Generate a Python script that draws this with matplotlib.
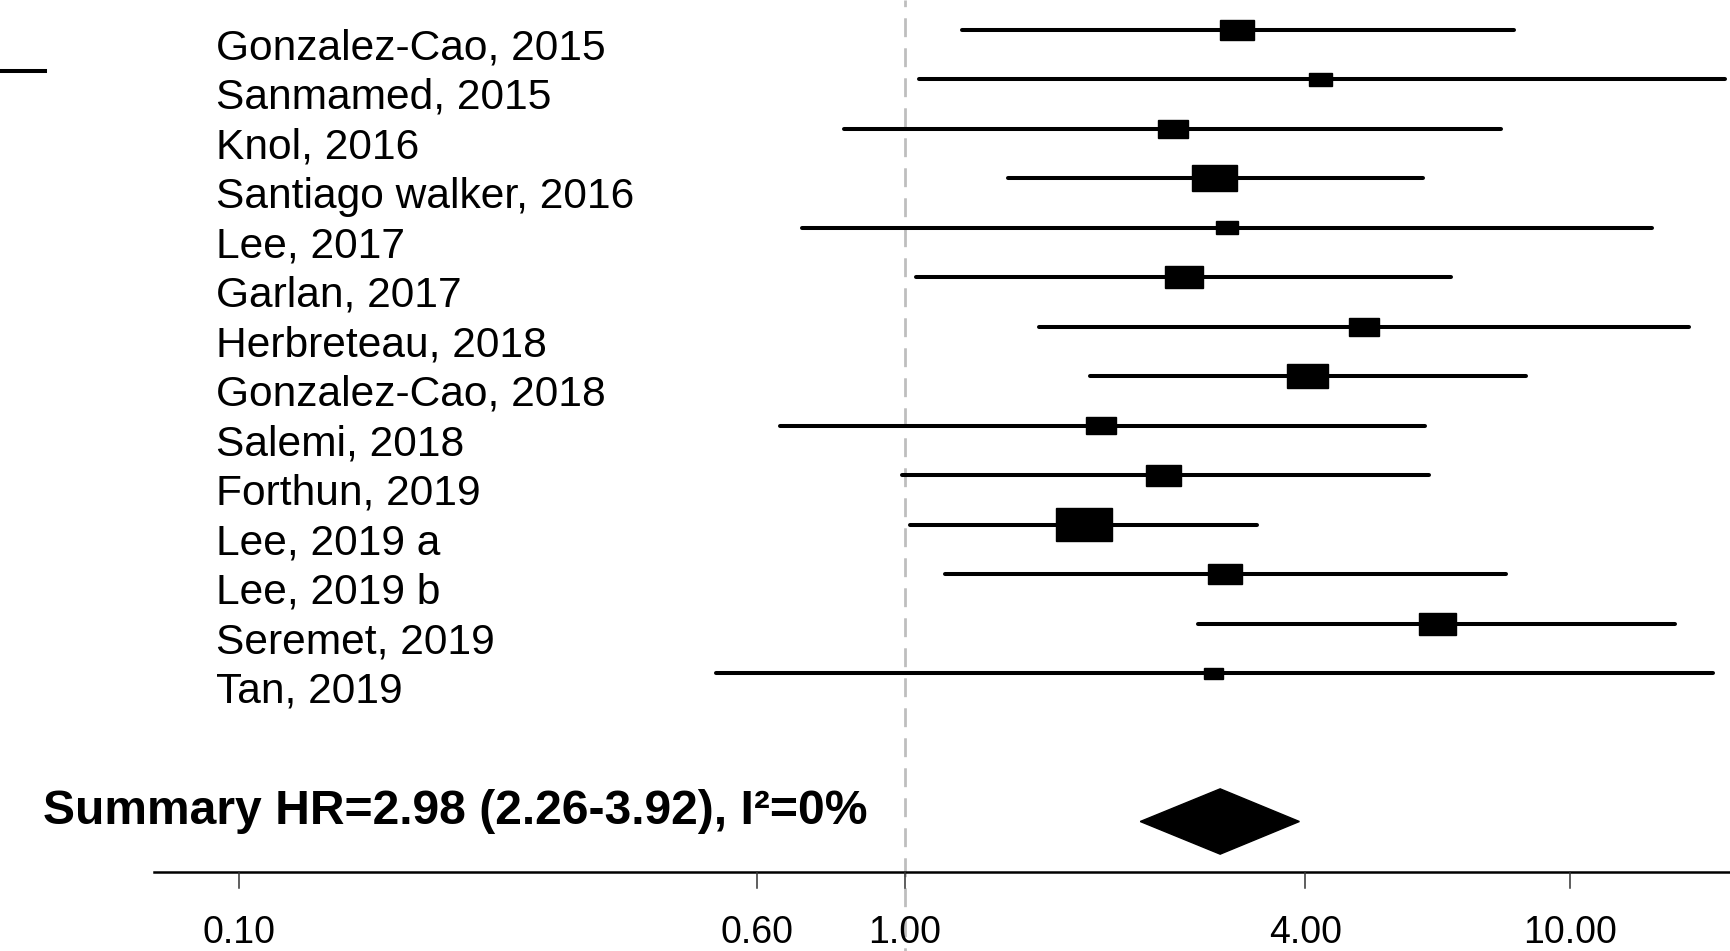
import numpy as np
import matplotlib.pyplot as plt

plt.rcParams['font.family'] = ['Liberation Sans', 'DejaVu Sans']

#===========
# DATA
#===========
studies = ["Gonzalez-Cao, 2015", "Sanmamed, 2015", "Knol, 2016", "Santiago walker, 2016",
           "Lee, 2017", "Garlan, 2017", "Herbreteau, 2018", "Gonzalez-Cao, 2018",
           "Salemi, 2018", "Forthun, 2019", "Lee, 2019 a", "Lee, 2019 b",
           "Seremet, 2019", "Tan, 2019"]
hr = [3.16, 4.22, 2.53, 2.92, 3.05, 2.63, 4.90, 4.03, 1.97, 2.45, 1.86, 3.03, 6.32, 2.91]
ci_low = [1.22, 1.05, 0.81, 1.43, 0.70, 1.04, 1.59, 1.90, 0.65, 0.99, 1.02, 1.15, 2.76, 0.52]
ci_high = [8.23, 17.1, 7.89, 6.02, 13.3, 6.62, 15.1, 8.59, 6.06, 6.13, 3.39, 8.01, 14.4, 16.4]
weights = [6.6, 2.9, 5.2, 11.7, 2.9, 8.1, 5.2, 9.8, 5.2, 7.3, 18.3, 6.6, 8.1, 2.0]

summary_hr = 2.98
summary_low = 2.26
summary_high = 3.92
i2 = 0

tick_values = [0.1, 0.6, 1.0, 4.0, 10.0]
tick_labels = ["0.10", "0.60", "1.00", "4.00", "10.00"]

#===========
# PLOT
#===========
fig = plt.figure(figsize=(17.3, 9.51), dpi=100)
ax = fig.add_axes([0, 0, 1, 1])
ax.set_xscale("log")
ax.set_xlim(0.04367, 17.40)
ax.set_ylim(19.617, 0.398)
ax.axis("off")

px_decade = 665.3   # pixels per decade on the x axis
px_row = 49.48      # pixels per row

# reference line at HR = 1
ax.plot([1, 1], [0.398, 19.617], color="#bebebe", lw=2,
        linestyle=(4.4, (6.8, 4)), zorder=0)

# studies
for i, name in enumerate(studies):
    y = i + 1
    ax.plot([ci_low[i], ci_high[i]], [y, y], color="black", lw=2.9,
            solid_capstyle="round", zorder=2)
    h_px = 7.743 * np.sqrt(weights[i])
    h = h_px / px_row
    dw = 1.7 * h_px / px_decade
    x0 = hr[i] * 10 ** (-dw / 2)
    x1 = hr[i] * 10 ** (dw / 2)
    ax.fill([x0, x1, x1, x0], [y - h / 2, y - h / 2, y + h / 2, y + h / 2],
            color="black", zorder=3)
    ax.text(0.1249, y + 0.6, name, transform=ax.get_yaxis_transform(),
            fontsize=30.6, va="baseline", ha="left")

# summary
ys = 17
ax.fill([summary_low, summary_hr, summary_high, summary_hr],
        [ys, ys - 0.66, ys, ys + 0.66], color="black", zorder=3)
ax.text(0.0249, ys + 0.05,
        "Summary HR=%.2f (%.2f-%.2f), I\u00b2=%d%%" % (summary_hr, summary_low, summary_high, i2),
        transform=ax.get_yaxis_transform(), fontsize=34.6, fontweight="bold",
        va="baseline", ha="left")

# x axis
ax.plot([0.0745, 17.4], [18.03, 18.03], color="black", lw=1.8, clip_on=False)
for v, lab in zip(tick_values, tick_labels):
    ax.plot([v, v], [18.03, 18.34], color="#333333", lw=1.1)
    ax.text(v, 19.45, lab, fontsize=27, ha="center", va="baseline")

# leftover dash at top left
ax.plot([0, 0.0258], [0.9257, 0.9257], transform=ax.transAxes,
        color="black", lw=2.9)

plt.savefig("out.png", dpi=100)
